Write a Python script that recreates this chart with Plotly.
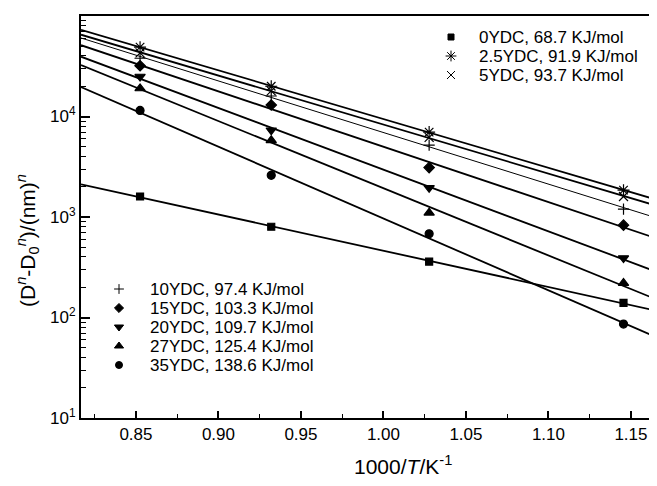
import numpy as np
import plotly.graph_objects as go

# 1000/T values (K^-1) for 900, 800, 700, 600 °C
x_vals = [0.8525, 0.9320, 1.0277, 1.1455]

series_names = [
    "0YDC, 68.7 KJ/mol",
    "2.5YDC, 91.9 KJ/mol",
    "5YDC, 93.7 KJ/mol",
    "10YDC, 97.4 KJ/mol",
    "15YDC, 103.3 KJ/mol",
    "20YDC, 109.7 KJ/mol",
    "27YDC, 125.4 KJ/mol",
    "35YDC, 138.6 KJ/mol",
]

y_0 = [1.6e3, 8.0e2, 3.6e2, 1.4e2]
y_2_5 = [4.9e4, 2.0e4, 7.0e3, 1.85e3]
y_5 = [4.3e4, 1.8e4, 6.2e3, 1.6e3]
y_10 = [3.8e4, 1.6e4, 5.2e3, 1.2e3]
y_15 = [3.2e4, 1.3e4, 3.1e3, 8.3e2]
y_20 = [2.5e4, 7.3e3, 1.95e3, 3.9e2]
y_27 = [1.9e4, 5.8e3, 1.1e3, 2.2e2]
y_35 = [1.15e4, 2.6e3, 6.8e2, 86]

series_values = [y_0, y_2_5, y_5, y_10, y_15, y_20, y_27, y_35]

symbols = ["square", "asterisk-open", "x-thin-open", "cross-thin-open",
           "diamond", "triangle-down", "triangle-up", "circle"]
sizes = [7, 10, 9, 8, 8, 9, 9, 8]
line_widths = [1.8, 1.8, 1.8, 1.0, 1.8, 1.8, 1.8, 1.8]

x_range = [0.8167, 1.1658]

x_title = "1000/<i>T</i>/K<sup>-1</sup>"
y_title = "(D<sup><i>n</i></sup>-D<sub>0</sub><sup><i>n</i></sup>)/(nm)<sup><i>n</i></sup>"

# The page body adds an 8 px offset, so margins are reduced by 8 px.
OFF = 8
W, H = 657 - OFF, 486
L, R, T, B = 81 - OFF, W, 16 - OFF, 418 - OFF   # plot frame in figure pixels

# legend key layout (pixel positions in the plot frame, screen coords minus offset)
leg_marker_x = [451, 451, 451, 119, 119, 119, 119, 119]
leg_text_x = [477, 477, 477, 148, 148, 148, 148, 148]
leg_y = [37, 56, 75, 289, 308, 327, 346, 365]

fig = go.Figure()
xx = np.array(x_range)
for name, yv, lw in zip(series_names, series_values, line_widths):
    k, b = np.polyfit(np.array(x_vals), np.log10(np.array(yv)), 1)
    fig.add_trace(go.Scatter(x=xx, y=10 ** (k * xx + b), mode="lines",
                             line=dict(color="black", width=lw),
                             showlegend=False, hoverinfo="skip"))

for name, yv, sym, sz in zip(series_names, series_values, symbols, sizes):
    fig.add_trace(go.Scatter(x=x_vals, y=yv, mode="markers", name=name,
                             marker=dict(symbol=sym, size=sz, color="black",
                                         line=dict(color="black", width=1.2)),
                             showlegend=False))

# legend keys
annotations = []
for name, sym, sz, mx, tx, ly in zip(series_names, symbols, sizes, leg_marker_x, leg_text_x, leg_y):
    fig.add_trace(go.Scatter(x=[mx - OFF], y=[ly - OFF], mode="markers", xaxis="x2", yaxis="y2",
                             marker=dict(symbol=sym, size=sz - 1, color="black",
                                         line=dict(color="black", width=1)),
                             showlegend=False, hoverinfo="skip"))
    annotations.append(dict(x=tx - OFF, y=ly - OFF, xref="x2", yref="y2", text=name,
                            showarrow=False, xanchor="left", yanchor="middle",
                            font=dict(size=17)))

# axis titles
annotations.append(dict(x=(403 - 81) / (R - L), y=0, xref="paper", yref="paper",
                        yshift=-47, text=x_title, showarrow=False,
                        xanchor="center", yanchor="middle", font=dict(size=21)))
annotations.append(dict(x=0, y=0.5, xref="paper", yref="paper", xshift=-54, yshift=-24,
                        text=y_title, textangle=-90, showarrow=False,
                        xanchor="center", yanchor="middle", font=dict(size=21)))

y_tickvals = [10, 100, 1000, 10000, 100000]
y_ticktext = ["10<sup>1</sup>", "10<sup>2</sup>", "10<sup>3</sup>", "10<sup>4</sup>", "10<sup>5</sup>"]
minor_vals = [m * d for d in [10, 100, 1000, 10000] for m in range(2, 10)]
x_tickvals = [0.85, 0.90, 0.95, 1.00, 1.05, 1.10, 1.15]
x_ticktext = ["0.85", "0.90", "0.95", "1.00", "1.05", "1.10", "1.15"]

font = dict(family="Liberation Sans, Arial, sans-serif", color="black")

fig.update_layout(
    width=W, height=H,
    margin=dict(l=L, r=W - R, t=T, b=H - B),
    paper_bgcolor="white", plot_bgcolor="white",
    font=dict(size=17, **font),
    showlegend=False,
    annotations=annotations,
    xaxis=dict(range=x_range, tickvals=x_tickvals, ticktext=x_ticktext,
               ticks="inside", ticklen=7, tickwidth=1.5, tickcolor="black",
               minor=dict(tickvals=[0.825, 0.875, 0.925, 0.975, 1.025, 1.075, 1.125],
                          ticks="inside", ticklen=4, tickwidth=1.2, tickcolor="black"),
               showline=True, linecolor="black", linewidth=2, mirror=True,
               showgrid=False, zeroline=False, automargin=False,
               tickfont=dict(size=17)),
    yaxis=dict(type="log", range=[1, 5], tickvals=y_tickvals, ticktext=y_ticktext,
               ticks="inside", ticklen=9, tickwidth=1.5, tickcolor="black",
               minor=dict(tickvals=minor_vals, ticks="inside", ticklen=5,
                          tickwidth=1.2, tickcolor="black"),
               showline=True, linecolor="black", linewidth=2,
               showgrid=False, zeroline=False, automargin=False,
               tickfont=dict(size=17)),
    xaxis2=dict(overlaying="x", range=[L, R], visible=False, fixedrange=True),
    yaxis2=dict(overlaying="y", range=[B, T], visible=False, fixedrange=True),
)

fig.write_html("out.html")
